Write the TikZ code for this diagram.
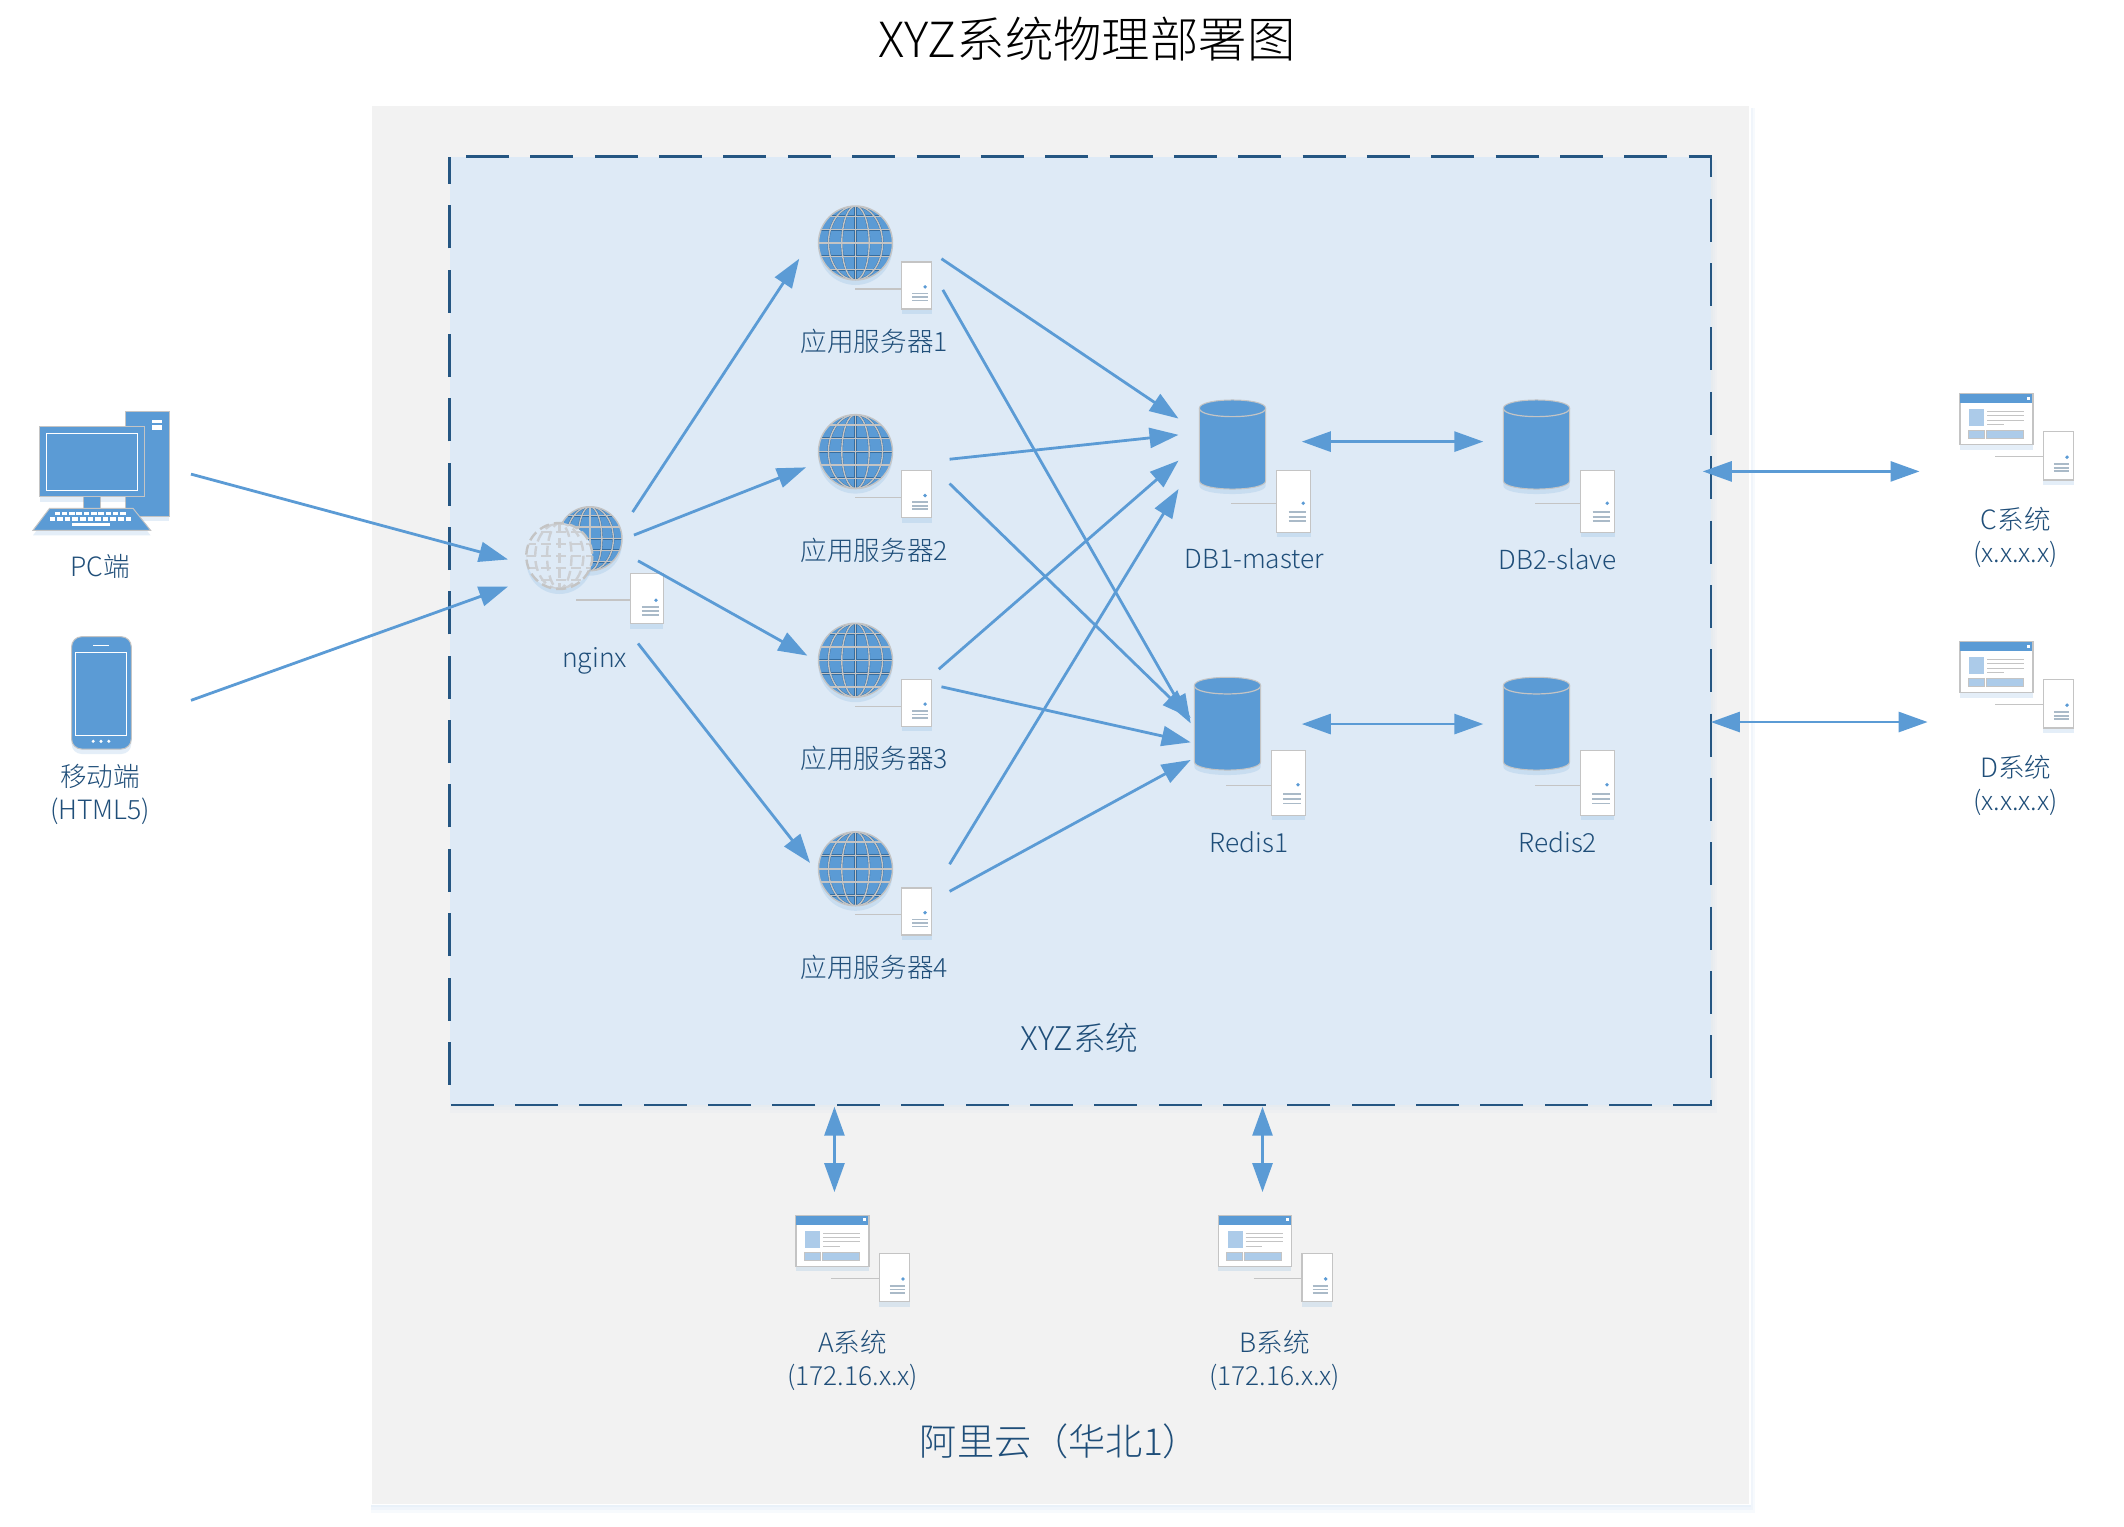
\documentclass[tikz,border=0pt]{standalone}
\usepackage{fontspec}
\setmainfont{Noto Sans CJK SC}[UprightFont=* Light,BoldFont=*]
\usetikzlibrary{arrows.meta,shadows}
\definecolor{icon}{HTML}{5B9BD5}
\definecolor{inkblue}{HTML}{1F4E79}
\definecolor{panelblue}{HTML}{DEEAF6}
\definecolor{panelgrey}{HTML}{F2F2F2}
\definecolor{edge}{HTML}{C4C4C4}
\definecolor{tint}{HTML}{ACCBE9}
\tikzset{
  softshadow/.style={drop shadow={shadow xshift=0pt,shadow yshift=-2.5pt,fill=icon,opacity=.16}},
  lbl/.style={text=inkblue,font=\fontsize{13.3pt}{16.4pt}\selectfont,inner sep=0pt,align=center},
  conn/.style={draw=icon,line width=1.4pt,-{Triangle[length=14.5pt,width=10pt]}},
  biconn/.style={draw=icon,line width=1.4pt,{Triangle[length=14.5pt,width=10pt]}-{Triangle[length=14.5pt,width=10pt]}},
  iconfill/.style={fill=icon,draw=edge,line width=.5pt},
  srvbox/.style={fill=white,draw=edge,line width=.7pt,softshadow},
  frame/.style={draw=inkblue!90!icon,line width=1.4pt,dash pattern=on 21.5pt off 10.675pt,dash phase=23.9pt},
}
\newcommand\lat[1]{{\fontsize{13.15pt}{16.4pt}\selectfont #1}}
% server box: x y w h linestartx liney
\newcommand\srvicon[6]{%
  \draw[edge,line width=.6pt] (#5,#6) -- (#1,#6);
  \fill[white,srvbox] (#1,#2) rectangle ++(#3,#4);
  \fill[icon] (#1+.78*#3,#2+.53*#4) circle[radius=1.9];
  \foreach \k in {.67,.75,.82}{\draw[edge!75!icon,line width=.8pt] (#1+.35*#3,#2+\k*#4) -- (#1+.86*#3,#2+\k*#4);}
}
% globe
\newcommand\globeicon[3]{%
  \fill[icon,softshadow] (#1,#2) circle[radius=#3];
  \begin{scope}
    \clip (#1,#2) circle[radius=#3];
    \foreach \c/\w in {inkblue!60!icon/1.05pt,edge/.7pt}{
      \foreach \r in {.37,.73}{\draw[\c,line width=\w] (#1,#2) ellipse[x radius=\r*#3,y radius=#3];}
      \draw[\c,line width=\w] (#1,#2-#3) -- (#1,#2+#3);
      \foreach \h in {-.72,-.36,0,.36,.72}{\draw[\c,line width=\w] (#1-#3,#2+\h*#3) -- (#1+#3,#2+\h*#3);}
    }
  \end{scope}
  \draw[edge,line width=.7pt] (#1,#2) circle[radius=#3];
}
\newcommand\ghostglobe[3]{%
  \fill[panelblue,softshadow] (#1,#2) circle[radius=#3];
  \begin{scope}
    \clip (#1,#2) circle[radius=#3];
    \begin{scope}[edge!70!panelblue,line width=1.2pt,dash pattern=on 5pt off 2.5pt]
      \foreach \r in {.37,.73}{\draw (#1,#2) ellipse[x radius=\r*#3,y radius=#3];}
      \draw (#1,#2-#3) -- (#1,#2+#3);
      \foreach \h in {-.72,-.36,0,.36,.72}{\draw (#1-#3,#2+\h*#3) -- (#1+#3,#2+\h*#3);}
    \end{scope}
  \end{scope}
  \draw[edge,line width=1.2pt,dash pattern=on 5pt off 2.5pt] (#1,#2) circle[radius=#3];
}
% cylinder: left top height
\newcommand\cylicon[3]{%
  \filldraw[iconfill,softshadow] (#1,#2+8.3) -- (#1,#2+#3-8.3)
     .. controls (#1,#2+#3+2.8) and (#1+66.4,#2+#3+2.8) .. (#1+66.4,#2+#3-8.3)
     -- (#1+66.4,#2+8.3)
     .. controls (#1+66.4,#2-2.8) and (#1,#2-2.8) .. (#1,#2+8.3) -- cycle;
  \draw[edge,line width=.6pt] (#1,#2+8.3) .. controls (#1,#2+19.4) and (#1+66.4,#2+19.4) .. (#1+66.4,#2+8.3);
}
% window with its server box: left top
\newcommand\winicon[2]{%
  \srvicon{#1+83.6}{#2+38}{30.4}{48.4}{#1+35.3}{#2+63}
  \filldraw[fill=white,draw=edge,line width=.8pt,softshadow] (#1,#2) rectangle ++(73,51);
  \fill[icon] (#1+.5,#2+.5) rectangle ++(72,8.8);
  \fill[white] (#1+67.5,#2+3) rectangle ++(3,3);
  \fill[tint] (#1+9.3,#2+15.7) rectangle ++(15,16.7);
  \filldraw[fill=tint,draw=edge,line width=.3pt] (#1+8.3,#2+37) rectangle ++(16,7.6);
  \filldraw[fill=tint,draw=edge,line width=.3pt] (#1+26.3,#2+37) rectangle ++(37,7.6);
  \foreach \k in {18,22.3,26.6}{\draw[edge,line width=.5pt] (#1+27.3,#2+\k) -- (#1+64.3,#2+\k);}
  \draw[edge,line width=.5pt] (#1+27.3,#2+31) -- (#1+44,#2+31);
}
\begin{document}
\begin{tikzpicture}[x=.5pt,y=-.5pt]
\useasboundingbox (0,0) rectangle (2124,1526);
\fill[white] (0,0) rectangle (2124,1526);
% panels
\foreach \g in {8,5,2}{\fill[icon,opacity=.045] (371,108) rectangle (1750+\g*.6,1505+\g);}
\filldraw[fill=panelgrey,draw=white,line width=.6pt] (371,105.7) rectangle (1750,1504.5);
\foreach \g in {8,5,2}{\fill[icon,opacity=.025] (449.5,160) rectangle (1711+\g*.8,1105+\g);}
\fill[panelblue] (449.5,156.7) rectangle (1711,1105);
\draw[frame] (449.5,156.7) -- (1711,156.7) -- (1711,1105) -- (449.5,1105) -- cycle;

% PC
\filldraw[iconfill,softshadow] (125.3,411.3) rectangle (169.4,516.3);
\fill[white] (152.4,419.7) rectangle (161.6,423.3);
\fill[white] (152.4,425.3) rectangle (161.6,429.7);
\filldraw[iconfill] (83,496) rectangle (100,509);
\filldraw[iconfill,softshadow] (39.5,426.3) rectangle (144.6,496.7);
\draw[white,line width=.7pt] (46.4,433.3) rectangle (137.7,490.3);
\filldraw[iconfill,softshadow] (49.6,508.3) -- (133,508.3) -- (150.6,530.3) -- (33,530.3) -- cycle;
\foreach \i in {0,...,9}{\fill[white] (54.5+7.3*\i,511.7) rectangle ++(5.5,3.3);}
\foreach \i in {0,...,10}{\fill[white] (49.5+7.6*\i,517) rectangle ++(5.7,3.7);}
\fill[white] (72,522.7) rectangle (110,525.7);

% phone
\filldraw[iconfill,rounded corners=5pt,softshadow] (71.6,636.7) rectangle (131.3,749);
\draw[white,line width=.6pt] (75.3,652.3) rectangle (126.7,735.7);
\draw[white,line width=.6pt] (93.2,645.3) -- (108.8,645.3);
\foreach \i in {93.2,101,108.8}{\fill[white] (\i,741.3) circle[radius=1.7];}

% nginx
\globeicon{590}{538.7}{32}
\ghostglobe{559.3}{556}{33}
\srvicon{630.3}{573.7}{33}{50}{576}{600}

% application servers
\foreach \ay in {243,451.6,660.2,868.8}{
  \globeicon{855.5}{\ay}{37}
  \srvicon{901.7}{\ay+19}{30}{47}{855}{\ay+46}
}

% data stores
\cylicon{1199.3}{400}{89}
\srvicon{1276.7}{470.3}{34}{62}{1231}{503.3}
\cylicon{1503.3}{400}{89}
\srvicon{1580.7}{470.3}{34}{62}{1535}{503.3}
\cylicon{1194.3}{677.3}{92.7}
\srvicon{1271.7}{750.3}{33.6}{65}{1226}{785.3}
\cylicon{1503.3}{677.3}{92.7}
\srvicon{1580.7}{750.3}{33.6}{65}{1535}{785.3}

% external systems
\winicon{1959.7}{393.5}
\winicon{1959.7}{641.5}
\winicon{795.7}{1215.3}
\winicon{1218.3}{1215.3}

% labels and connector ends (given in the 1568-wide reading of the picture)
\begin{scope}[x=.6773pt,y=-.6773pt]
\node[text=black,inner sep=0pt,font=\fontsize{24.2pt}{28pt}\selectfont] (title) at (802.5,29) {XYZ系统物理部署图};
\node[lbl] (lpc) at (74,418) {PC端};
\node[lbl] (lmob) at (74,586.5) {移动端\\(HTML5)};
\node[lbl] (lng) at (439,488) {nginx};
\node[lbl] (la1) at (645.5,252) {应用服务器1};
\node[lbl] (la2) at (645.5,406) {应用服务器2};
\node[lbl] (la3) at (645.5,560) {应用服务器3};
\node[lbl] (la4) at (645.5,714) {应用服务器4};
\node[lbl] (ldb1) at (926,413) {\lat{DB1-master}};
\node[lbl] (ldb2) at (1150,413) {\lat{DB2-slave}};
\node[lbl] (lr1) at (922,622) {\lat{Redis1}};
\node[lbl] (lr2) at (1150,622) {\lat{Redis2}};
\node[lbl] (lc) at (1488,397) {C系统\\\lat{(x.x.x.x)}};
\node[lbl] (ld) at (1488,580) {D系统\\\lat{(x.x.x.x)}};
\node[lbl] (la) at (629.4,1004) {A系统\\\lat{(172.16.x.x)}};
\node[lbl] (lb) at (941,1004) {B系统\\\lat{(172.16.x.x)}};
\node[lbl,font=\fontsize{16.3pt}{18pt}\selectfont] (lxyz) at (797,766) {XYZ系统};
\node[lbl,font=\fontsize{18.6pt}{20pt}\selectfont] (lali) at (782.5,1064) {阿里云（华北1）};

\coordinate (pc) at (141,350); \coordinate (ngA) at (375,413);
\coordinate (mob) at (141,517); \coordinate (ngB) at (375,433);
\coordinate (ng1) at (467,378); \coordinate (ap1in) at (590,191);
\coordinate (ng2) at (468,395); \coordinate (ap2in) at (595,345);
\coordinate (ng3) at (471,414); \coordinate (ap3in) at (596,484);
\coordinate (ng4) at (471,475); \coordinate (ap4in) at (598,637);
\coordinate (ap1a) at (695,191); \coordinate (dbA) at (870,309);
\coordinate (ap1b) at (696,214); \coordinate (rdA) at (879,534);
\coordinate (ap2a) at (701,339); \coordinate (dbB) at (870,321);
\coordinate (ap2b) at (701,357); \coordinate (rdB) at (879,530);
\coordinate (ap3a) at (693,494); \coordinate (dbC) at (870,340);
\coordinate (ap3b) at (695,507); \coordinate (rdC) at (879,548);
\coordinate (ap4a) at (701,638); \coordinate (dbD) at (870,361);
\coordinate (ap4b) at (701,658); \coordinate (rdD) at (879,561);
\coordinate (db1r) at (961,326); \coordinate (db2l) at (1095,326);
\coordinate (r1r) at (961,534.5); \coordinate (r2l) at (1095,534.5);
\coordinate (cl) at (1257,348); \coordinate (cr) at (1417,348);
\coordinate (dl) at (1263,533); \coordinate (dr) at (1423,533);
\coordinate (at) at (616,817); \coordinate (ab) at (616,880);
\coordinate (bt) at (932,817); \coordinate (bb) at (932,880);
\end{scope}

\draw[conn] (pc) -- (ngA);
\draw[conn] (mob) -- (ngB);
\draw[conn] (ng1) -- (ap1in);
\draw[conn] (ng2) -- (ap2in);
\draw[conn] (ng3) -- (ap3in);
\draw[conn] (ng4) -- (ap4in);
\draw[conn] (ap1a) -- (dbA);
\draw[conn] (ap1b) -- (rdA);
\draw[conn] (ap2a) -- (dbB);
\draw[conn] (ap2b) -- (rdB);
\draw[conn] (ap3a) -- (dbC);
\draw[conn] (ap3b) -- (rdC);
\draw[conn] (ap4a) -- (dbD);
\draw[conn] (ap4b) -- (rdD);
\draw[biconn] (db1r) -- (db2l);
\draw[biconn] (r1r) -- (r2l);
\draw[biconn] (cl) -- (cr);
\draw[biconn] (dl) -- (dr);
\draw[biconn] (at) -- (ab);
\draw[biconn] (bt) -- (bb);
\end{tikzpicture}
\end{document}
